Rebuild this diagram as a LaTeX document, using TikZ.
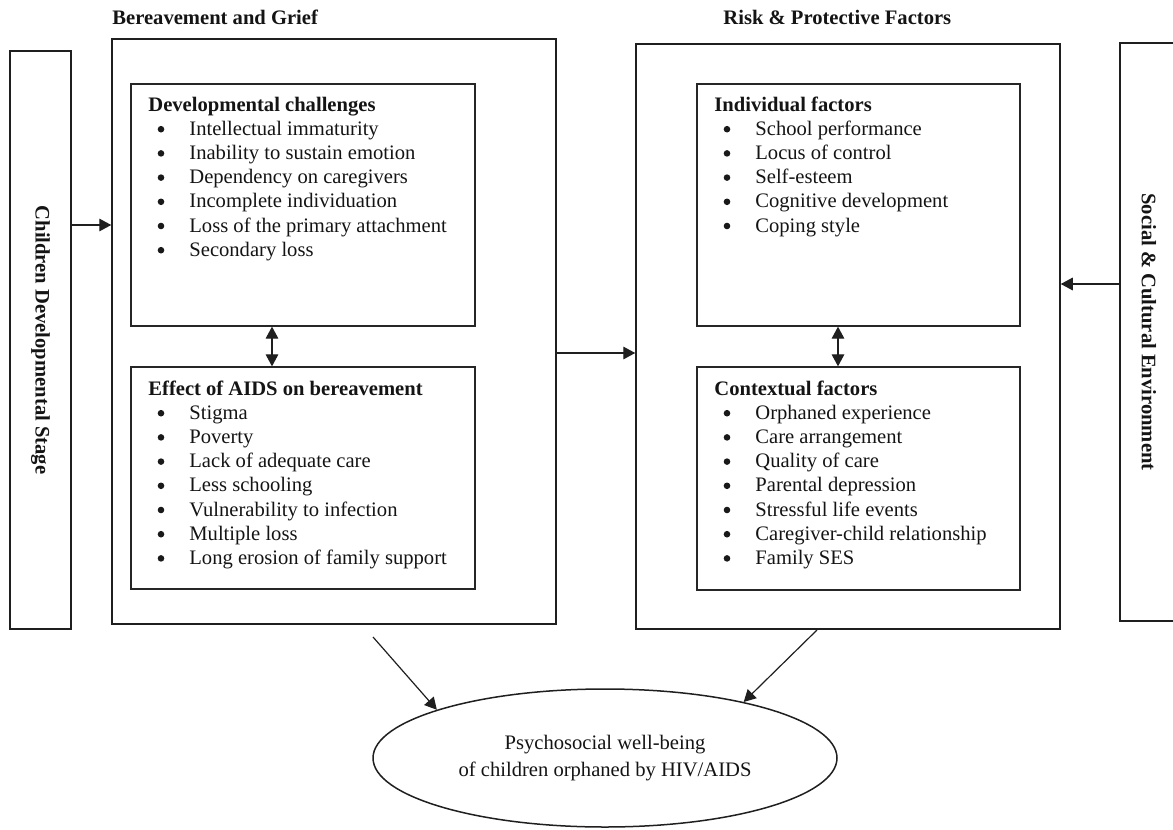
\documentclass[tikz,border=0pt]{standalone}
\usepackage{fontspec}
\setmainfont{Liberation Serif}
\usetikzlibrary{arrows.meta,shapes.geometric,fit}
\begin{document}
\begin{tikzpicture}[x=0.5pt,y=-0.5pt,
  every node/.style={font=\fontsize{10.3}{12}\selectfont, text=black!92},
  outerbox/.style={draw=black!88, line width=0.75pt, inner sep=0pt},
  innerbox/.style={draw=black!85, line width=0.65pt, inner sep=0pt},
  heading/.style={anchor=base west, inner sep=0pt, font=\fontsize{10.3}{12}\selectfont\bfseries},
  item/.style={anchor=base west, inner sep=0pt},
  bul/.style={circle, fill=black!90, inner sep=0pt, minimum size=3.3pt},
  arr/.style={draw=black!88, line width=0.6pt, -{Triangle[length=6pt,width=6.3pt]}},
  darr/.style={draw=black!88, line width=0.6pt, {Triangle[length=6pt,width=6.3pt]}-{Triangle[length=6pt,width=6.3pt]}},
  vtext/.style={rotate=-90, inner sep=0pt, font=\fontsize{10.3}{12}\selectfont\bfseries}]
\useasboundingbox (0,0) rectangle (1173,830);

% side boxes
\node[outerbox, fit={(10,51)(71,629)}] (ln) {};
\node[vtext] (lt) at (40.5,340) {Children Developmental Stage};
\node[outerbox, fit={(1120,43)(1190,621)}] (rn) {};
\node[vtext] (rt) at (1149,332) {Social \& Cultural Environment};

% main boxes
\node[heading] (h1) at (112,25) {Bereavement and Grief};
\node[outerbox, fit={(112,39)(556,624)}] (bg) {};
\node[heading] (h2) at (723,25) {Risk \& Protective Factors};
\node[outerbox, fit={(636,44)(1060,629)}] (rg) {};

% inner boxes
\node[innerbox, fit={(131,84)(475,326)}] (b1) {};
\node[innerbox, fit={(131,367)(475,589)}] (b2) {};
\node[innerbox, fit={(697,84)(1020,326)}] (b3) {};
\node[innerbox, fit={(697,367)(1020,590)}] (b4) {};

% box 1
\node[heading] (t1) at (148,111) {Developmental challenges};
\foreach \t [count=\i] in {Intellectual immaturity, Inability to sustain emotion, Dependency on caregivers, Incomplete individuation, Loss of the primary attachment, Secondary loss}{
  \node[bul] (b1b\i) at (161,105+24.2*\i) {};
  \node[item] (b1i\i) at (189,111+24.2*\i) {\t};
}
% box 2
\node[heading] (t2) at (148,395) {Effect of AIDS on bereavement};
\foreach \t [count=\i] in {Stigma, Poverty, Lack of adequate care, Less schooling, Vulnerability to infection, Multiple loss, Long erosion of family support}{
  \node[bul] (b2b\i) at (161,389+24.2*\i) {};
  \node[item] (b2i\i) at (189,395+24.2*\i) {\t};
}
% box 3
\node[heading] (t3) at (714,111) {Individual factors};
\foreach \t [count=\i] in {School performance, Locus of control, Self-esteem, Cognitive development, Coping style}{
  \node[bul] (b3b\i) at (727,105+24.2*\i) {};
  \node[item] (b3i\i) at (755,111+24.2*\i) {\t};
}
% box 4
\node[heading] (t4) at (714,395) {Contextual factors};
\foreach \t [count=\i] in {Orphaned experience, Care arrangement, Quality of care, Parental depression, Stressful life events, Caregiver-child relationship, Family SES}{
  \node[bul] (b4b\i) at (727,389+24.2*\i) {};
  \node[item] (b4i\i) at (755,395+24.2*\i) {\t};
}

% ellipse
\node[ellipse, draw=black!88, line width=0.75pt, minimum width=232pt, minimum height=69pt, inner sep=0pt, align=center,
  font=\fontsize{10.3}{13.5}\selectfont] (ell) at (605,758) {Psychosocial well-being\\of children orphaned by HIV/AIDS};

% connectors
\coordinate (ya) at (0,225);
\coordinate (yb) at (0,353);
\coordinate (yc) at (0,284);
\coordinate (xl) at (272,0);
\coordinate (xr) at (838,0);
\draw[arr] (ln.east |- ya) -- (bg.west |- ya);
\draw[arr] (bg.east |- yb) -- (rg.west |- yb);
\draw[arr] (rn.west |- yc) -- (rg.east |- yc);
\draw[darr] (b1.south -| xl) -- (b2.north -| xl);
\draw[darr] (b3.south -| xr) -- (b4.north -| xr);
\coordinate (s1) at (373,637);
\coordinate (s2) at (817,630);
\draw[arr] (s1) -- (ell.164.6);
\draw[arr] (s2) -- (ell.22.8);
\end{tikzpicture}
\end{document}
